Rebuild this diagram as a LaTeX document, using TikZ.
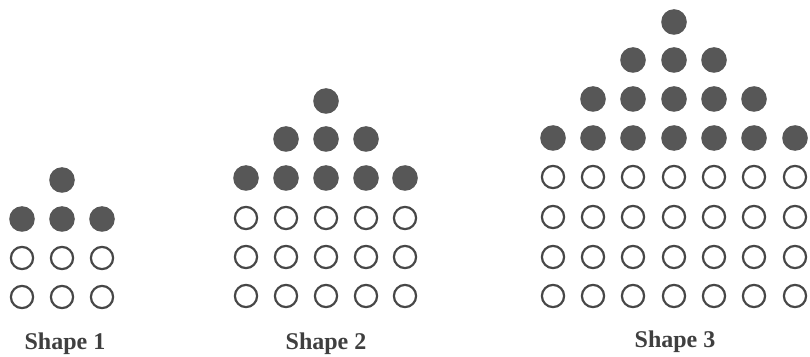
\documentclass[tikz,border=0pt]{standalone}
\usepackage{fontspec}
\setmainfont{Liberation Serif}
\definecolor{dotgray}{HTML}{575757}
\definecolor{ringgray}{HTML}{474747}
\definecolor{labelgray}{HTML}{3F3F3F}
\begin{document}
\begin{tikzpicture}[x=1pt,y=1pt,
  dotfill/.style={circle,fill=dotgray,inner sep=0pt,minimum size=25.6pt},
  dotopen/.style={circle,draw=ringgray,line width=2.2pt,inner sep=0pt,minimum size=22.2pt},
  lbl/.style={font=\fontsize{24}{28}\selectfont\bfseries,text=labelgray,anchor=base}]
\fill[white] (0,0) rectangle (810,356);
\useasboundingbox (0,0) rectangle (810,356);
% Shape 1
\node[dotfill] (s1-f1-2) at (62,176) {};
\foreach \x [count=\i] in {22,62,102} {
  \node[dotfill] (s1-f2-\i) at (\x,137) {};
  \node[dotopen] (s1-o1-\i) at (\x,98) {};
  \node[dotopen] (s1-o2-\i) at (\x,59) {};
}
\node[lbl] (lab1) at (65,7) {Shape 1};
% Shape 2
\node[dotfill] (s2-f1-3) at (326,255) {};
\foreach \x [count=\i from 2] in {286,326,366} {
  \node[dotfill] (s2-f2-\i) at (\x,217) {};
}
\foreach \x [count=\i] in {246,286,326,366,405} {
  \node[dotfill] (s2-f3-\i) at (\x,178) {};
  \node[dotopen] (s2-o1-\i) at (\x,138) {};
  \node[dotopen] (s2-o2-\i) at (\x,99) {};
  \node[dotopen] (s2-o3-\i) at (\x,60) {};
}
\node[lbl] (lab2) at (326,7) {Shape 2};
% Shape 3
\node[dotfill] (s3-f1-4) at (674,334) {};
\foreach \x [count=\i from 3] in {633,674,714} {
  \node[dotfill] (s3-f2-\i) at (\x,296) {};
}
\foreach \x [count=\i from 2] in {593,633,674,714,754} {
  \node[dotfill] (s3-f3-\i) at (\x,257) {};
}
\foreach \x [count=\i] in {553,593,633,674,714,754,795} {
  \node[dotfill] (s3-f4-\i) at (\x,218) {};
  \node[dotopen] (s3-o1-\i) at (\x,179) {};
  \node[dotopen] (s3-o2-\i) at (\x,139) {};
  \node[dotopen] (s3-o3-\i) at (\x,99) {};
  \node[dotopen] (s3-o4-\i) at (\x,60) {};
}
\node[lbl] (lab3) at (675,9) {Shape 3};
\end{tikzpicture}
\end{document}
